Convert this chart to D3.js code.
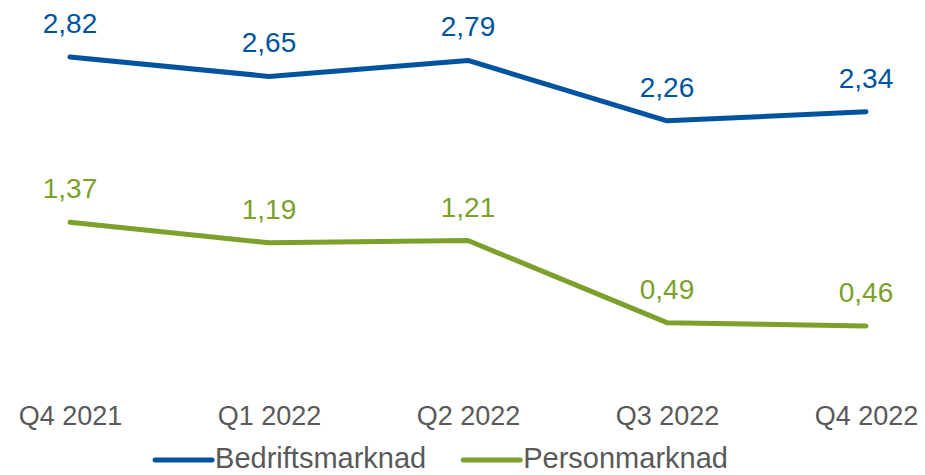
<!DOCTYPE html>
<html>
<head>
<meta charset="utf-8">
<script src="https://cdn.jsdelivr.net/npm/d3@7"></script>
<style>
  body { margin: 0; background: #fff; }
  text { font-family: Arial, "Liberation Sans", sans-serif; }
</style>
</head>
<body>
<svg id="chart"></svg>
<script>
// Kvartaler og verdier lest av bildet
const quarters = ['Q4 2021', 'Q1 2022', 'Q2 2022', 'Q3 2022', 'Q4 2022'];
const bedrift = [2.82, 2.65, 2.79, 2.26, 2.34];
const person = [1.37, 1.19, 1.21, 0.49, 0.46];
const seriesNames = ['Bedriftsmarknad', 'Personmarknad'];
const seriesColors = ['#00539f', '#7ba12c'];

const width = 925;
const height = 475;

const svg = d3.select('#chart')
    .attr('width', width)
    .attr('height', height);

const x = d3.scalePoint()
    .domain(quarters)
    .range([70, 866]);

const y = d3.scaleLinear()
    .domain([0, 3])
    .range([378.5, 36.5]);

const series = [bedrift, person].map((vals, i) => ({
    name: seriesNames[i],
    color: seriesColors[i],
    points: vals.map((v, j) => ({ q: quarters[j], v: v }))
}));

const fmt = (v) => d3.format('.2f')(v).replace('.', ',');

const line = d3.line()
    .x((d) => x(d.q))
    .y((d) => y(d.v));

// Linjer
svg.append('g')
    .selectAll('path')
    .data(series)
    .enter()
    .append('path')
    .attr('d', (d) => line(d.points))
    .attr('fill', 'none')
    .attr('stroke', (d) => d.color)
    .attr('stroke-width', 5)
    .attr('stroke-linecap', 'round')
    .attr('stroke-linejoin', 'round');

// Dataetiketter
series.forEach((s) => {
    svg.append('g')
        .selectAll('text')
        .data(s.points)
        .enter()
        .append('text')
        .attr('x', (d) => x(d.q))
        .attr('y', (d) => y(d.v) - 24)
        .attr('text-anchor', 'middle')
        .style('font-size', '28px')
        .style('fill', s.color)
        .text((d) => fmt(d.v));
});

// X-akse (kun etiketter)
const xAxis = svg.append('g')
    .attr('transform', 'translate(0,399)')
    .call(d3.axisBottom(x).tickSize(0).tickPadding(0));
xAxis.select('.domain').remove();
xAxis.selectAll('text')
    .attr('dy', '0.95em')
    .style('font-size', '27px')
    .style('font-family', 'Arial, "Liberation Sans", sans-serif')
    .style('fill', '#595959');

// Forklaring
const legend = svg.append('g');
const items = legend.selectAll('g')
    .data(series)
    .enter()
    .append('g');

items.append('line')
    .attr('x1', 0)
    .attr('x2', 57)
    .attr('y1', 0)
    .attr('y2', 0)
    .attr('stroke', (d) => d.color)
    .attr('stroke-width', 5)
    .attr('stroke-linecap', 'round');

items.append('text')
    .attr('x', 60)
    .attr('y', 8)
    .style('font-size', '29px')
    .style('fill', '#595959')
    .text((d) => d.name);

let offset = 0;
const gap = 37;
items.each(function() {
    const w = this.getBBox().width;
    d3.select(this).attr('transform', `translate(${ offset },0)`);
    offset += w + gap;
});
const totalW = offset - gap;
legend.attr('transform', `translate(${ 441.5 - totalW / 2 },460)`);
</script>
</body>
</html>
